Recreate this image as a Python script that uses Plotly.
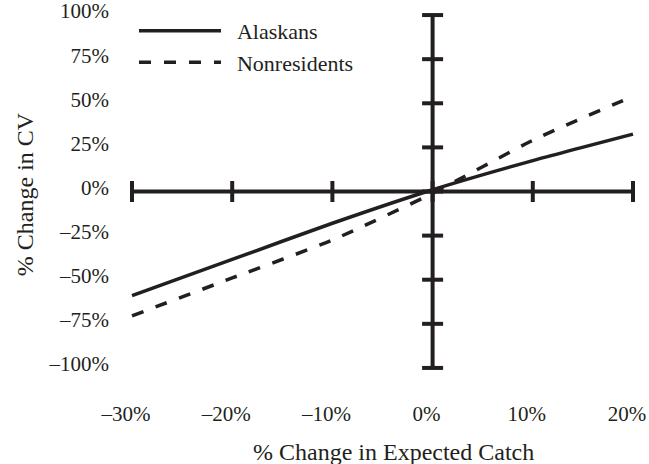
import plotly.graph_objects as go

# Expected-catch change (%) and the resulting change in compensating variation (%)
catch_change = [-30, -20, -10, 0, 10, 20]
cv_alaskans = [-59, -38.5, -18, 1, 17.5, 32.5]
cv_nonresidents = [-70.5, -49, -27.5, -1, 29, 54]

x_ticks = [-30, -20, -10, 0, 10, 20]
x_tick_labels = ["–30%", "–20%", "–10%", "0%", "10%", "20%"]
y_ticks = [-100, -75, -50, -25, 0, 25, 50, 75, 100]
y_tick_labels = ["–100%", "–75%", "–50%", "–25%", "0%", "25%", "50%", "75%", "100%"]

INK = "#231f20"
FONT = "Liberation Serif, Times New Roman, serif"

fig = go.Figure()

# Crossed axes through the origin, with cap ticks at every tick value
fig.add_trace(go.Scatter(
    x=x_ticks, y=[0] * len(x_ticks), mode="lines+markers",
    line=dict(color=INK, width=4),
    marker=dict(symbol="line-ns", size=15, line=dict(color=INK, width=4)),
    showlegend=False, hoverinfo="skip", cliponaxis=False,
))
fig.add_trace(go.Scatter(
    x=[0] * len(y_ticks), y=y_ticks, mode="lines+markers",
    line=dict(color=INK, width=4),
    marker=dict(symbol="line-ew", size=15, line=dict(color=INK, width=4)),
    showlegend=False, hoverinfo="skip", cliponaxis=False,
))

fig.add_trace(go.Scatter(
    x=catch_change, y=cv_alaskans, mode="lines",
    name="\u00a0\u00a0Alaskans",
    line=dict(color=INK, width=3.5, shape="spline", smoothing=0.6),
))
fig.add_trace(go.Scatter(
    x=catch_change, y=cv_nonresidents, mode="lines",
    name="\u00a0\u00a0Nonresidents",
    line=dict(color=INK, width=3.5, dash="12px,13px", shape="spline", smoothing=0.6),
))

fig.update_layout(
    width=649, height=464,
    margin=dict(l=122, r=6, t=8, b=89, autoexpand=False),
    paper_bgcolor="white", plot_bgcolor="white",
    font=dict(family=FONT, color=INK, size=21),
    showlegend=True,
    legend=dict(
        x=0.023, y=0.995, xanchor="left", yanchor="top",
        bgcolor="rgba(0,0,0,0)", borderwidth=0,
        itemwidth=82, font=dict(size=22, family=FONT, color=INK),
        tracegroupgap=0,
    ),
    xaxis=dict(
        range=[-31, 21], tickvals=x_ticks, ticktext=x_tick_labels,
        showgrid=False, zeroline=False, showline=False, ticks="",
        ticklabelstandoff=24, ticklabelshift=-6,
        ticklabeloverflow="allow", automargin=False,
        tickfont=dict(size=21, family=FONT, color=INK),
    ),
    yaxis=dict(
        range=[-104, 104], tickvals=y_ticks, ticktext=y_tick_labels,
        showgrid=False, zeroline=False, showline=False, ticks="",
        ticklabelstandoff=12, ticklabelshift=-4,
        ticklabeloverflow="allow", automargin=False,
        tickfont=dict(size=21, family=FONT, color=INK),
    ),
    annotations=[
        dict(text="% Change in Expected Catch", xref="paper", yref="paper",
             x=0.522, y=-0.209, xanchor="center", yanchor="middle",
             showarrow=False, font=dict(size=24, family=FONT, color=INK)),
        dict(text="% Change in CV", xref="paper", yref="paper",
             x=-0.186, y=0.493, xanchor="center", yanchor="middle",
             textangle=-90, showarrow=False,
             font=dict(size=24, family=FONT, color=INK)),
    ],
)

fig.write_html("out.html")
